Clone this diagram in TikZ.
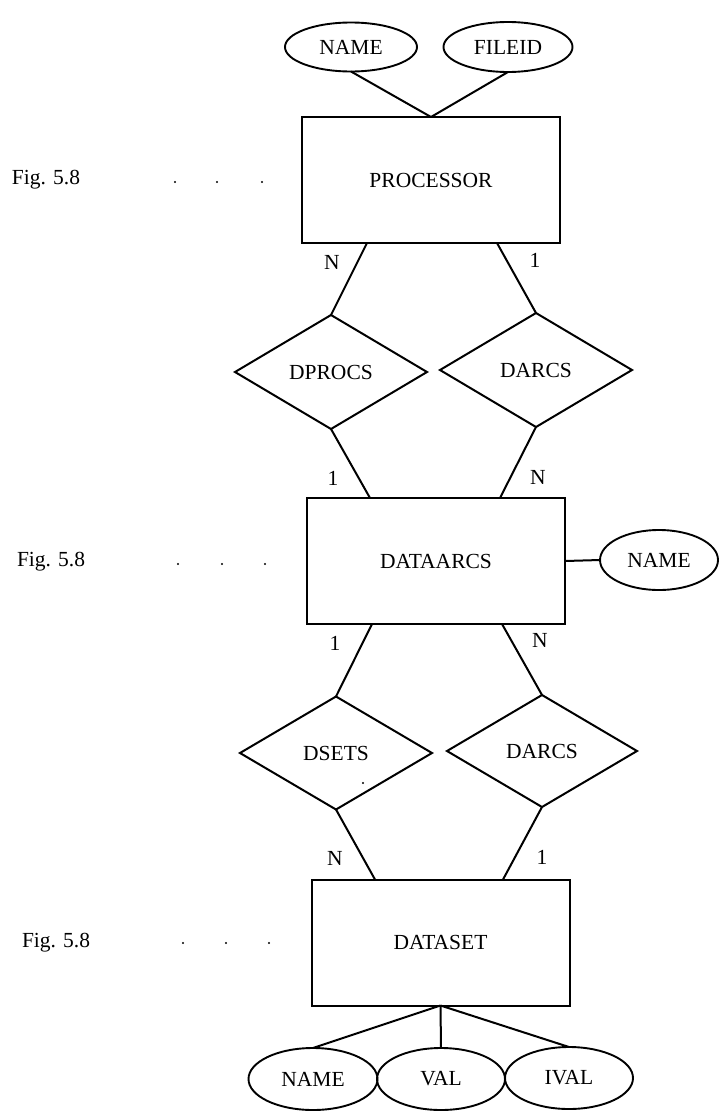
\documentclass[tikz,border=0pt]{standalone}
\usepackage{fontspec}
\setmainfont{Liberation Serif}
\usetikzlibrary{shapes.geometric}
\begin{document}
\begin{tikzpicture}[x=1pt,y=-1pt,
  every node/.style={font=\fontsize{21.5}{26}\selectfont, inner sep=0pt, outer sep=0pt},
  entity/.style={draw, rectangle, line width=2pt, minimum width=258pt, minimum height=126pt},
  relation/.style={draw, diamond, line width=2pt, minimum width=192pt, minimum height=114pt},
  attrib/.style={draw, ellipse, line width=1.9pt, minimum width=130pt, minimum height=50pt},
  link/.style={line width=2pt},
  card/.style={font=\fontsize{21.5}{26}\selectfont},
  figlabel/.style={anchor=west, font=\fontsize{21.5}{26}\selectfont},
  leader/.style={fill=black}
]
\useasboundingbox (0,0) rectangle (721,1111);

% entities
\node[entity] (proc) at (431,180) {PROCESSOR};
\node[entity] (arcs) at (436,561) {DATAARCS};
\node[entity] (dset) at (440.5,942.5) {DATASET};

% relationships
\node[relation] (dprocs) at (331,372) {DPROCS};
\node[relation] (darcsA) at (536,370) {DARCS};
\node[relation, minimum height=113pt] (dsets) at (336,753) {DSETS};
\node[relation, minimum width=190pt, minimum height=112pt] (darcsB) at (542,751) {DARCS};

% attributes
\node[attrib, minimum width=132pt, minimum height=49pt] (pname) at (351,47) {NAME};
\node[attrib, minimum width=129pt] (fileid) at (508,47) {FILEID};
\node[attrib, minimum width=118pt, minimum height=60pt] (aname) at (659,560) {NAME};
\node[attrib, minimum width=129pt, minimum height=62pt] (sname) at (313,1079) {NAME};
\node[attrib, minimum width=128pt, minimum height=62pt] (val) at (441,1079) {VAL};
\node[attrib, minimum width=128pt, minimum height=62pt] (ival) at (569,1078) {IVAL};

% attribute links
\draw[link] (pname.south) -- (proc.north);
\draw[link] (fileid.south) -- (proc.north);
\draw[link] (arcs.east) -- (aname.west);
\draw[link] (dset.south) -- (sname.north);
\draw[link] (dset.south) -- (val.north);
\draw[link] (dset.south) -- (ival.north);

% relationship links
\draw[link] ([xshift=-64pt]proc.south) -- (dprocs.north);
\draw[link] ([xshift=66pt]proc.south) -- (darcsA.north);
\draw[link] (dprocs.south) -- ([xshift=-66pt]arcs.north);
\draw[link] (darcsA.south) -- ([xshift=64pt]arcs.north);
\draw[link] ([xshift=-64pt]arcs.south) -- (dsets.north);
\draw[link] ([xshift=66pt]arcs.south) -- (darcsB.north);
\draw[link] (dsets.south) -- ([xshift=-65.5pt]dset.north);
\draw[link] (darcsB.south) -- ([xshift=62.5pt]dset.north);

% cardinalities
\node[card] (c1) at (332,262) {N};
\node[card] (c2) at (535,260) {1};
\node[card] (c3) at (333,478) {1};
\node[card] (c4) at (538,477) {N};
\node[card] (c5) at (335,643) {1};
\node[card] (c6) at (540,640) {N};
\node[card] (c7) at (335,858) {N};
\node[card] (c8) at (542,857) {1};

% figure references with leader dots
\node[figlabel] (f1) at (12,180) {Fig. 5.8};
\node[figlabel] (f2) at (17,562) {Fig. 5.8};
\node[figlabel] (f3) at (22,943) {Fig. 5.8};
\foreach \x/\y in {175/182,217/182,262/182,178/564,222/564,265/564,183/943,226/943,269/943}
  \fill[leader] (\x,\y) circle (1.1pt);
\fill[leader] (363,783) circle (1.1pt);
\end{tikzpicture}
\end{document}
